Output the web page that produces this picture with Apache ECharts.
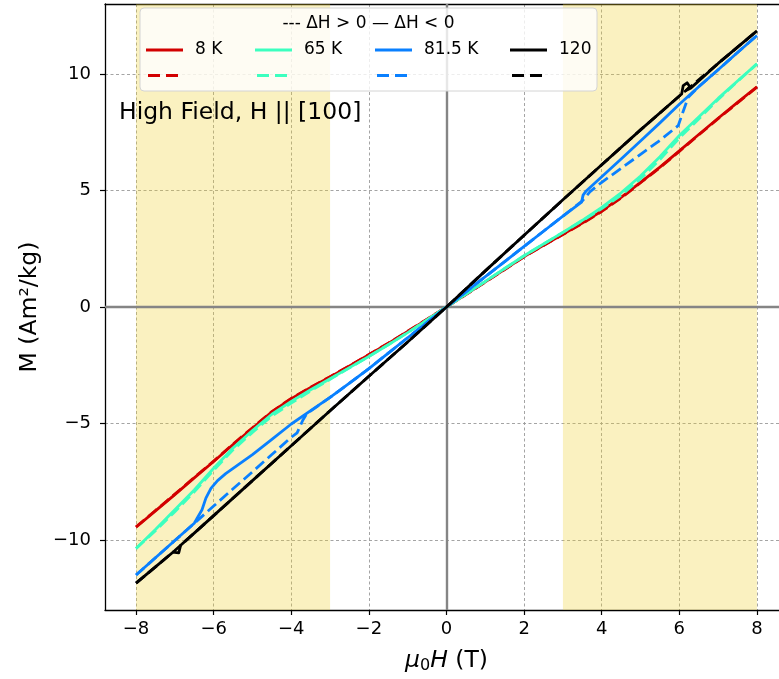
<!DOCTYPE html>
<html>
<head>
<meta charset="utf-8">
<script src="https://cdn.jsdelivr.net/npm/echarts@6/dist/echarts.min.js"></script>
<style>
  html, body { margin: 0; padding: 0; background: #ffffff; overflow: hidden; }
  /* the plot frame runs a little past the right edge of the window */
  #chart { width: 788px; height: 679px; }
</style>
</head>
<body>
<div id="chart"></div>
<script>
// ---------------- data ----------------
const xTicks = [-8, -6, -4, -2, 0, 2, 4, 6, 8];
const yTicks = [-10, -5, 0, 5, 10];
const shadedBands = [[-8, -3], [3, 8]];
const temperatureLabels = ['8 K', '65 K', '81.5 K', '120'];
const legendHeader = '--- \u0394H > 0 \u2014 \u0394H < 0';
const panelNote = 'High Field, H || [100]';

// 8 K
const H_8K = [-8, -7.5, -7, -6.5, -6, -5.5, -5, -4.5, -4, -3.5, -3, -2.5, -2, -1.5, -1, -0.5, 0,
              0.5, 1, 1.5, 2, 2.5, 3, 3.5, 4, 4.5, 5, 5.5, 6, 6.5, 7, 7.5, 8];
const M_8K_down = [-9.45, -8.75, -8.05, -7.33, -6.63, -5.9, -5.2, -4.5, -3.93, -3.45, -3.0, -2.53, -2.05, -1.56, -1.05, -0.53, 0,
                   0.54, 1.08, 1.62, 2.16, 2.65, 3.12, 3.6, 4.12, 4.7, 5.35, 6.0, 6.7, 7.4, 8.1, 8.78, 9.45];
const M_8K_up   = [-9.43, -8.73, -8.03, -7.31, -6.61, -5.88, -5.18, -4.49, -3.92, -3.44, -2.99, -2.52, -2.04, -1.55, -1.04, -0.52, 0,
                   0.53, 1.07, 1.61, 2.15, 2.64, 3.11, 3.58, 4.1, 4.68, 5.33, 5.98, 6.68, 7.38, 8.08, 8.76, 9.43];

// 65 K
const H_65K = [-8, -7.5, -7, -6.5, -6, -5.5, -5, -4.5, -4, -3.5, -3, -2.5, -2, -1.5, -1, -0.5, 0,
               0.5, 1, 1.5, 2, 2.5, 3, 3.5, 4, 4.5, 5, 5.5, 6, 6.5, 7, 7.5, 8];
const M_65K_down = [-10.36, -9.55, -8.7, -7.85, -6.92, -6.05, -5.3, -4.6, -4.05, -3.55, -3.08, -2.6, -2.12, -1.62, -1.1, -0.55, 0,
                    0.55, 1.1, 1.65, 2.2, 2.7, 3.2, 3.72, 4.27, 4.9, 5.62, 6.45, 7.36, 8.15, 8.95, 9.7, 10.43];
const M_65K_up   = [-10.36, -9.6, -8.78, -7.93, -7.0, -6.13, -5.38, -4.68, -4.12, -3.6, -3.1, -2.61, -2.12, -1.62, -1.1, -0.55, 0,
                    0.55, 1.1, 1.65, 2.2, 2.7, 3.2, 3.7, 4.22, 4.8, 5.5, 6.33, 7.25, 8.07, 8.9, 9.68, 10.43];

// 81.5 K, field decreasing
const H_815K_down = [-8, -7.5, -7, -6.5, -6.45, -6.3, -6.2, -6.07, -5.9, -5.69, -5, -4.5, -4, -3.5, -3, -2.5, -2, -1.5, -1, -0.5, 0,
                     0.5, 1, 1.5, 2, 2.5, 3, 3.48, 3.52, 3.6, 4, 4.5, 5, 5.5, 6, 6.5, 7, 7.5, 8];
const M_815K_down = [-11.5, -10.76, -10.02, -9.28, -9.2, -8.7, -8.2, -7.78, -7.45, -7.15, -6.33, -5.68, -5.02, -4.45, -3.88, -3.27, -2.64, -1.98, -1.32, -0.66, 0,
                     0.65, 1.3, 1.95, 2.6, 3.25, 3.9, 4.5, 4.8, 4.98, 5.59, 6.35, 7.12, 7.9, 8.7, 9.45, 10.18, 10.92, 11.65];
// 81.5 K, field increasing
const H_815K_up = [-8, -7.5, -7, -6.5, -6, -5.5, -5, -4.5, -4, -3.85, -3.7, -3.6, -3, -2.5, -2, -1.5, -1, -0.5, 0,
                   0.5, 1, 1.5, 2, 2.5, 3, 3.5, 3.7, 4, 4.5, 5, 5.5, 5.97, 6.1, 6.23, 6.5, 7, 7.5, 8];
const M_815K_up = [-11.5, -10.76, -10.02, -9.28, -8.54, -7.8, -7.07, -6.33, -5.59, -5.4, -4.85, -4.58, -3.88, -3.27, -2.64, -1.98, -1.32, -0.66, 0,
                   0.65, 1.3, 1.95, 2.6, 3.25, 3.9, 4.55, 4.95, 5.35, 5.95, 6.55, 7.15, 7.78, 8.4, 9.0, 9.45, 10.18, 10.92, 11.65];

// 120 K
const H_120K_down = [-8, -7.5, -7.05, -6.9, -6.85, -6.8, -6.5, -6, -5, -4, -3, -2, -1, 0,
                     1, 2, 3, 4, 5, 6, 6.06, 6.1, 6.2, 6.27, 6.18, 6.3, 7, 7.5, 8];
const M_120K_down = [-11.85, -11.15, -10.52, -10.55, -10.22, -10.15, -9.7, -8.95, -7.45, -5.95, -4.45, -2.97, -1.5, 0,
                     1.55, 3.08, 4.6, 6.1, 7.6, 9.05, 9.14, 9.5, 9.62, 9.45, 9.3, 9.4, 10.45, 11.15, 11.85];
const H_120K_up = [-8, -7, -6, -5, -4, -3, -2, -1, 0, 1, 2, 3, 4, 5, 6, 7, 8];
const M_120K_up = [-11.85, -10.45, -8.95, -7.45, -5.95, -4.45, -2.97, -1.5, 0, 1.55, 3.08, 4.6, 6.1, 7.6, 9.05, 10.45, 11.85];

// ---------------- styling ----------------
const FONT = 'DejaVu Sans';
const COLORS = ['#d20000', '#3cffbf', '#0a80ff', '#000000'];
const DASH = [11, 5];

const curves = [
  { H: H_8K,        M: M_8K_down,   color: COLORS[0], dashed: false },
  { H: H_8K,        M: M_8K_up,     color: COLORS[0], dashed: true },
  { H: H_65K,       M: M_65K_down,  color: COLORS[1], dashed: false },
  { H: H_65K,       M: M_65K_up,    color: COLORS[1], dashed: true },
  { H: H_815K_down, M: M_815K_down, color: COLORS[2], dashed: false },
  { H: H_815K_up,   M: M_815K_up,   color: COLORS[2], dashed: true },
  { H: H_120K_down, M: M_120K_down, color: COLORS[3], dashed: false },
  { H: H_120K_up,   M: M_120K_up,   color: COLORS[3], dashed: true }
];

const pairs = (xs, ys) => xs.map((x, i) => [x, ys[i]]);
const minus = v => (v < 0 ? '\u2212' + Math.abs(v) : String(v));

const series = [
  { // shaded field ranges
    type: 'line', data: [], z: 1, silent: true,
    markArea: {
      silent: true,
      itemStyle: { color: 'rgba(238, 208, 45, 0.30)' },
      data: shadedBands.map(b => [{ xAxis: b[0] }, { xAxis: b[1] }])
    }
  },
  { // zero lines
    type: 'line', data: [], z: 2, silent: true,
    markLine: {
      silent: true, symbol: 'none', animation: false,
      label: { show: false },
      lineStyle: { color: '#858585', width: 2.4, type: 'solid' },
      data: [{ xAxis: 0 }, { yAxis: 0 }]
    }
  }
];

curves.forEach((c, i) => {
  series.push({
    type: 'line',
    data: pairs(c.H, c.M),
    showSymbol: false,
    symbol: 'none',
    z: 3 + i,
    lineStyle: { color: c.color, width: 2.8, type: c.dashed ? DASH : 'solid', cap: 'butt', join: 'round' }
  });
});

// legend block
const legendBox = { x: 140, y: 8, w: 457, h: 83 };
const legendSlots = [146, 255, 375, 510];
const legendGraphics = [
  {
    type: 'rect', z: 100,
    shape: { x: legendBox.x, y: legendBox.y, width: legendBox.w, height: legendBox.h, r: 4 },
    style: { fill: 'rgba(255,255,255,0.8)', stroke: '#d4d4d4', lineWidth: 1 }
  },
  {
    type: 'text', z: 101, x: legendBox.x + legendBox.w / 2, y: 24,
    style: { text: legendHeader, font: '17px "' + FONT + '"', fill: '#000', textAlign: 'center', textVerticalAlign: 'middle' }
  }
];
temperatureLabels.forEach((lab, i) => {
  const sx = legendSlots[i];
  legendGraphics.push({
    type: 'line', z: 101,
    shape: { x1: sx, y1: 50, x2: sx + 37, y2: 50 },
    style: { stroke: COLORS[i], lineWidth: 2.8 }
  });
  legendGraphics.push({
    type: 'line', z: 101,
    shape: { x1: sx + 2, y1: 75.5, x2: sx + 33, y2: 75.5 },
    style: { stroke: COLORS[i], lineWidth: 2.8, lineDash: [12, 6] }
  });
  legendGraphics.push({
    type: 'text', z: 101, x: sx + 49, y: 50,
    style: { text: lab, font: '17px "' + FONT + '"', fill: '#000', textAlign: 'left', textVerticalAlign: 'middle' }
  });
});
legendGraphics.push({
  type: 'text', z: 101, x: 119, y: 113,
  style: { text: panelNote, font: '23.5px "' + FONT + '"', fill: '#000', textAlign: 'left', textVerticalAlign: 'middle' }
});

const chart = echarts.init(document.getElementById('chart'), null, { renderer: 'canvas' });
chart.setOption({
  animation: false,
  backgroundColor: '#ffffff',
  textStyle: { fontFamily: FONT },
  grid: { left: 105, top: 4, right: 0, bottom: 69, containLabel: false },
  xAxis: [
    {
      type: 'value', min: -8.8, max: 8.8, position: 'bottom',
      name: '{i|\u03bc}{s|0}{i|H} (T)',
      nameLocation: 'middle', nameGap: 38,
      nameTextStyle: {
        fontSize: 23.5, color: '#000', fontFamily: FONT,
        rich: {
          i: { fontSize: 23.5, fontStyle: 'italic', fontFamily: FONT, color: '#000' },
          s: { fontSize: 16, fontFamily: FONT, color: '#000', padding: [10, 0, 0, 0] }
        }
      },
      axisLine: { show: true, onZero: false, lineStyle: { color: '#000', width: 1.3 } },
      axisTick: { show: true, inside: false, length: 5, lineStyle: { color: '#000', width: 1.2 }, customValues: xTicks },
      axisLabel: { show: true, margin: 10, fontSize: 18, color: '#000', fontFamily: FONT, customValues: xTicks, formatter: minus },
      splitLine: { show: true, lineStyle: { color: '#9a9a9a', width: 0.9, type: [3, 2.5] } }
    },
    {
      type: 'value', min: -8.8, max: 8.8, position: 'top',
      axisLine: { show: true, onZero: false, lineStyle: { color: '#000', width: 1.3 } },
      axisTick: { show: false }, axisLabel: { show: false }, splitLine: { show: false }
    }
  ],
  yAxis: {
    type: 'value', min: -13, max: 13,
    name: 'M (Am\u00b2/kg)',
    nameLocation: 'middle', nameGap: 58, nameRotate: 90,
    nameTextStyle: { fontSize: 23.5, color: '#000', fontFamily: FONT },
    axisLine: { show: true, onZero: false, lineStyle: { color: '#000', width: 1.3 } },
    axisTick: { show: true, inside: false, length: 5, lineStyle: { color: '#000', width: 1.2 }, customValues: yTicks },
    axisLabel: { show: true, margin: 14, fontSize: 18, color: '#000', fontFamily: FONT, customValues: yTicks, formatter: minus },
    splitLine: { show: true, lineStyle: { color: '#9a9a9a', width: 0.9, type: [3, 2.5] } }
  },
  series: series,
  graphic: { elements: legendGraphics }
});
</script>
</body>
</html>
